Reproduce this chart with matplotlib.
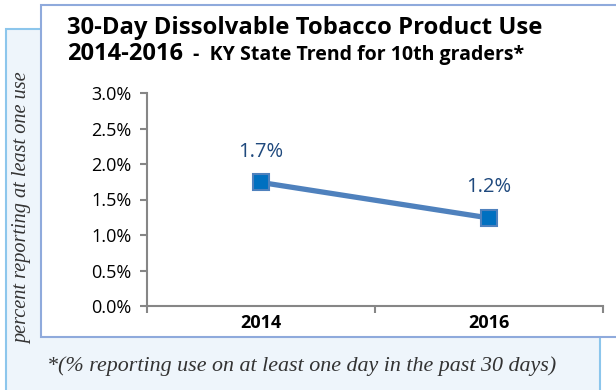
import matplotlib.pyplot as plt
from matplotlib.patches import Rectangle

years = ['2014', '2016']
values = [1.74, 1.24]
yticks = [0.0, 0.5, 1.0, 1.5, 2.0, 2.5, 3.0]

W, H = 616, 390
fig = plt.figure(figsize=(W / 100, H / 100), dpi=100)

# light blue back panel
fig.patches.append(Rectangle((6 / W, -0.02), 594 / W, (H - 29) / H + 0.02,
                             transform=fig.transFigure, facecolor='#EEF5FB',
                             edgecolor='#8CC6EC', linewidth=1.5, zorder=0))
# white chart box
fig.patches.append(Rectangle((41 / W, 1 - 337 / H), 600 / W, 332 / H,
                             transform=fig.transFigure, facecolor='white',
                             edgecolor='#8FAADC', linewidth=1.5, zorder=1))

ax = fig.add_axes([147 / W, 1 - 306 / H, 456 / W, 213 / H])
ax.set_zorder(3)
ax.set_facecolor('none')
x = list(range(len(years)))
ax.plot(x, values, color='#4F81BD', linewidth=3.8, marker='s', markersize=11,
        markerfacecolor='#0070C0', markeredgecolor='#4F81BD', markeredgewidth=1.5,
        clip_on=False, zorder=3)
for xi, v in zip(x, values):
    ax.annotate(f'{v:.1f}%', (xi, v), xytext=(0, 15), textcoords='offset points',
                ha='center', va='bottom', fontsize=14.5, color='#1F497D',
                family='Open Sans')

ax.set_xlim(-0.5, 1.5)
ax.set_ylim(0, 3.0)
ax.set_yticks(yticks)
ax.set_yticklabels([f'{t:.1f}%' for t in yticks], fontsize=13, family='Open Sans')
ax.set_xticks([-0.5, 0.5, 1.5])
ax.set_xticklabels([])
ax.set_xticks(x, minor=True)
ax.set_xticklabels(years, minor=True, fontsize=13, fontweight='bold', family='Open Sans')
ax.tick_params(axis='x', which='minor', length=0, pad=6)
ax.tick_params(axis='x', which='major', length=5, color='#868686', width=1.5)
ax.tick_params(axis='y', length=5, color='#868686', width=1.5, pad=6)
for s in ['top', 'right']:
    ax.spines[s].set_visible(False)
for s in ['left', 'bottom']:
    ax.spines[s].set_color('#868686')
    ax.spines[s].set_linewidth(1.5)

fig.text(67 / W, 1 - 34 / H, '30-Day Dissolvable Tobacco Product Use',
         fontsize=17.2, fontweight='bold', family='Open Sans', va='baseline', zorder=5)
fig.text(67 / W, 1 - 60 / H, '2014-2016', fontsize=17, fontweight='bold',
         family='Open Sans', va='baseline', zorder=5)
fig.text(193 / W, 1 - 60 / H, '-  KY State Trend for 10th graders*', fontsize=14,
         fontweight='bold', family='Open Sans', va='baseline', zorder=5)

fig.text(23 / W, 1 - 208 / H, 'percent reporting at least one use', rotation=90,
         ha='center', va='center', fontsize=14.6, style='italic',
         family='Liberation Serif', color='#333333', zorder=5)
fig.text(47 / W, 1 - 366 / H, '*(% reporting use on at least one day in the past 30 days)',
         ha='left', va='center', fontsize=15.8, style='italic',
         family='Liberation Serif', color='#333333', zorder=5)

fig.savefig('out.png', dpi=100)
